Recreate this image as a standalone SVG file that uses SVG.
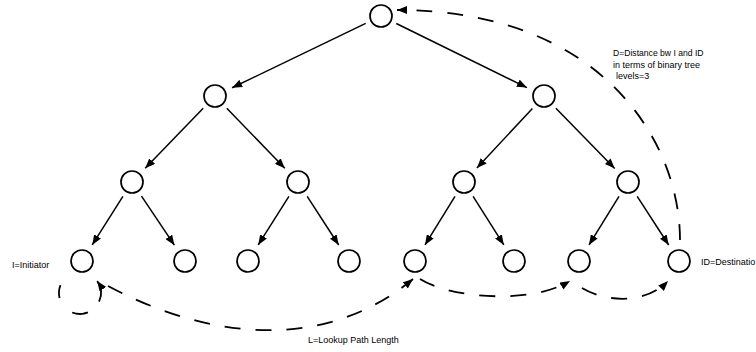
<svg xmlns="http://www.w3.org/2000/svg" width="756" height="352" viewBox="0 0 756 352">
  <style>
    .node { fill: #ffffff; stroke: #000000; stroke-width: 1.7; }
    .edge { fill: none; stroke: #000000; stroke-width: 1.5; marker-end: url(#ah); }
    .path { fill: none; stroke: #000000; stroke-width: 1.8; stroke-dasharray: 16 15; marker-end: url(#ah); }
    .lbl { font-family: "Liberation Sans", Arial, sans-serif; font-size: 9px; fill: #000000; }
  </style>
  <defs>
    <marker id="ah" viewBox="0 0 10 8" refX="10" refY="4" markerWidth="10" markerHeight="8" markerUnits="userSpaceOnUse" orient="auto">
      <path d="M0,0 L10,4 L0,8 z" fill="#000000"/>
    </marker>
  </defs>

  <!-- tree edges -->
  <g id="connectors">
    <line class="edge" x1="365.7" y1="23.4" x2="232.1" y2="87.8"/>
    <line class="edge" x1="396.3" y1="23.5" x2="526.9" y2="87.6"/>
    <line class="edge" x1="203.2" y1="108.2" x2="145.2" y2="168.3"/>
    <line class="edge" x1="226.8" y1="108.2" x2="284.8" y2="168.3"/>
    <line class="edge" x1="532.4" y1="108.4" x2="476.9" y2="168.1"/>
    <line class="edge" x1="555.9" y1="108.2" x2="614.7" y2="168.4"/>
    <line class="edge" x1="122.9" y1="196.4" x2="92.2" y2="244.9"/>
    <line class="edge" x1="141.5" y1="196.1" x2="174.4" y2="245.2"/>
    <line class="edge" x1="288.9" y1="196.4" x2="258.2" y2="244.9"/>
    <line class="edge" x1="307.2" y1="196.3" x2="338.7" y2="245"/>
    <line class="edge" x1="455" y1="196.4" x2="425" y2="244.9"/>
    <line class="edge" x1="473.1" y1="196.4" x2="503.8" y2="244.9"/>
    <line class="edge" x1="619" y1="196.4" x2="589" y2="244.9"/>
    <line class="edge" x1="637.2" y1="196.3" x2="668.7" y2="245"/>

    <!-- dashed lookup / distance paths -->
    <path class="path" d="M680,240 C680,140 600,10 397,10"/>
    <path class="path" style="stroke-dasharray:13.2 19.8 16.1 15.8 24" d="M60.5,285.1 A21,21 0 1 0 97.2,281"/>
    <path class="path" d="M108,286 C210,340 325,352 413,279"/>
    <path class="path" d="M420,279 C450,298 530,305 570,281"/>
    <path class="path" d="M582,288 C605,302 645,305 668,281"/>
  </g>

  <!-- nodes -->
  <g id="n-root"><circle class="node" cx="381" cy="16" r="11"/></g>
  <g id="n-a"><circle class="node" cx="215" cy="96" r="11"/></g>
  <g id="n-b"><circle class="node" cx="544" cy="96" r="11"/></g>
  <g id="n-a1"><circle class="node" cx="132" cy="182" r="11"/></g>
  <g id="n-a2"><circle class="node" cx="298" cy="182" r="11"/></g>
  <g id="n-b1"><circle class="node" cx="464" cy="182" r="11"/></g>
  <g id="n-b2"><circle class="node" cx="628" cy="182" r="11"/></g>
  <g id="n-l1"><circle class="node" cx="82" cy="261" r="11"/></g>
  <g id="n-l2"><circle class="node" cx="185" cy="261" r="11"/></g>
  <g id="n-l3"><circle class="node" cx="248" cy="261" r="11"/></g>
  <g id="n-l4"><circle class="node" cx="349" cy="261" r="11"/></g>
  <g id="n-l5"><circle class="node" cx="415" cy="261" r="11"/></g>
  <g id="n-l6"><circle class="node" cx="514" cy="261" r="11"/></g>
  <g id="n-l7"><circle class="node" cx="579" cy="261" r="11"/></g>
  <g id="n-l8"><circle class="node" cx="679" cy="261" r="11"/></g>

  <!-- labels -->
  <g id="labels">
    <text class="lbl" x="613" y="55.5" style="font-size:8.6px">D=Distance bw I and ID</text>
    <text class="lbl" x="613" y="67.5">in terms of binary tree</text>
    <text class="lbl" x="616" y="79"> levels=3</text>
    <text class="lbl" x="12" y="268">I=Initiator</text>
    <text class="lbl" x="701" y="265">ID=Destinatio</text>
    <text class="lbl" x="308" y="343">L=Lookup Path Length</text>
  </g>
</svg>
